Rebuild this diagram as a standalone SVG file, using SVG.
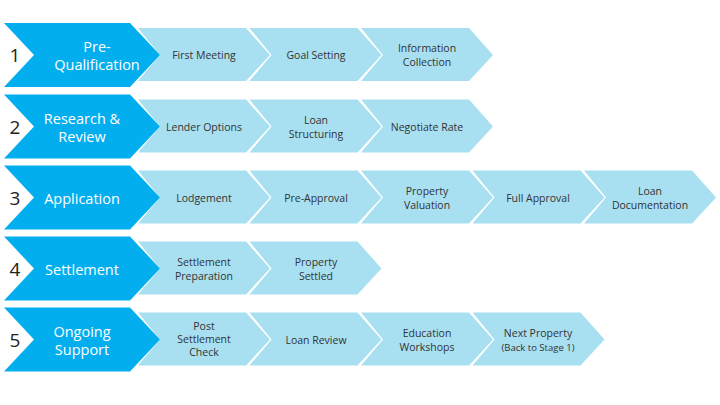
<svg xmlns="http://www.w3.org/2000/svg" width="720" height="405" viewBox="0 0 720 405">
<defs>
<style>
.big{fill:#03AEEF}
.sm{fill:#A8E0F1}
.bt{font-family:"Open Sans",sans-serif;font-size:14.5px;fill:#fff;text-anchor:middle}
.st{font-family:"Open Sans",sans-serif;font-size:10.5px;fill:#333;text-anchor:middle}
.num{font-family:"Open Sans",sans-serif;font-size:19px;fill:#222;text-anchor:middle}
</style>
<path id="B" class="big" d="M4 0H130L160 32L130 64H4L34 32Z"/>
<path id="S" class="sm" d="M0 5H108L132 32L108 58H0L22 32Z"/>
</defs>
<rect width="720" height="405" fill="#fff"/>
<g id="connectors"/>
<g id="row1" transform="translate(0,23)">
<use href="#S" x="138"/><use href="#S" x="249.5"/><use href="#S" x="361"/>
<use href="#B"/>
<text class="num" x="15" y="39">1</text>
<text class="bt" x="97" y="29">Pre-</text><text class="bt" x="97" y="47">Qualification</text>
<text class="st" x="204" y="36">First Meeting</text>
<text class="st" x="316" y="36">Goal Setting</text>
<text class="st" x="427" y="29">Information</text><text class="st" x="427" y="43">Collection</text>
</g>
<g id="row2" transform="translate(0,94.5)">
<use href="#S" x="138"/><use href="#S" x="249.5"/><use href="#S" x="361"/>
<use href="#B"/>
<text class="num" x="15" y="39">2</text>
<text class="bt" x="82" y="29">Research &amp;</text><text class="bt" x="82" y="47">Review</text>
<text class="st" x="204" y="36">Lender Options</text>
<text class="st" x="316" y="29">Loan</text><text class="st" x="316" y="43">Structuring</text>
<text class="st" x="427" y="36">Negotiate Rate</text>
</g>
<g id="row3" transform="translate(0,165.5)">
<use href="#S" x="138"/><use href="#S" x="249.5"/><use href="#S" x="361"/><use href="#S" x="472.5"/><use href="#S" x="584"/>
<use href="#B"/>
<text class="num" x="15" y="39">3</text>
<text class="bt" x="82" y="38">Application</text>
<text class="st" x="204" y="36">Lodgement</text>
<text class="st" x="316" y="36">Pre-Approval</text>
<text class="st" x="427" y="29">Property</text><text class="st" x="427" y="43">Valuation</text>
<text class="st" x="538" y="36">Full Approval</text>
<text class="st" x="650" y="29">Loan</text><text class="st" x="650" y="43">Documentation</text>
</g>
<g id="row4" transform="translate(0,236.5)">
<use href="#S" x="138"/><use href="#S" x="249.5"/>
<use href="#B"/>
<text class="num" x="15" y="39">4</text>
<text class="bt" x="82" y="38">Settlement</text>
<text class="st" x="204" y="29">Settlement</text><text class="st" x="204" y="43">Preparation</text>
<text class="st" x="316" y="29">Property</text><text class="st" x="316" y="43">Settled</text>
</g>
<g id="row5" transform="translate(0,307.5)">
<use href="#S" x="138"/><use href="#S" x="249.5"/><use href="#S" x="361"/><use href="#S" x="472.5"/>
<use href="#B"/>
<text class="num" x="15" y="39">5</text>
<text class="bt" x="82" y="29">Ongoing</text><text class="bt" x="82" y="47">Support</text>
<text class="st" x="204" y="22">Post</text><text class="st" x="204" y="35">Settlement</text><text class="st" x="204" y="48">Check</text>
<text class="st" x="316" y="36">Loan Review</text>
<text class="st" x="427" y="29">Education</text><text class="st" x="427" y="43">Workshops</text>
<text class="st" x="538" y="29">Next Property</text><text class="st" x="538" y="43" style="font-size:9.5px">(Back to Stage 1)</text>
</g>
</svg>
